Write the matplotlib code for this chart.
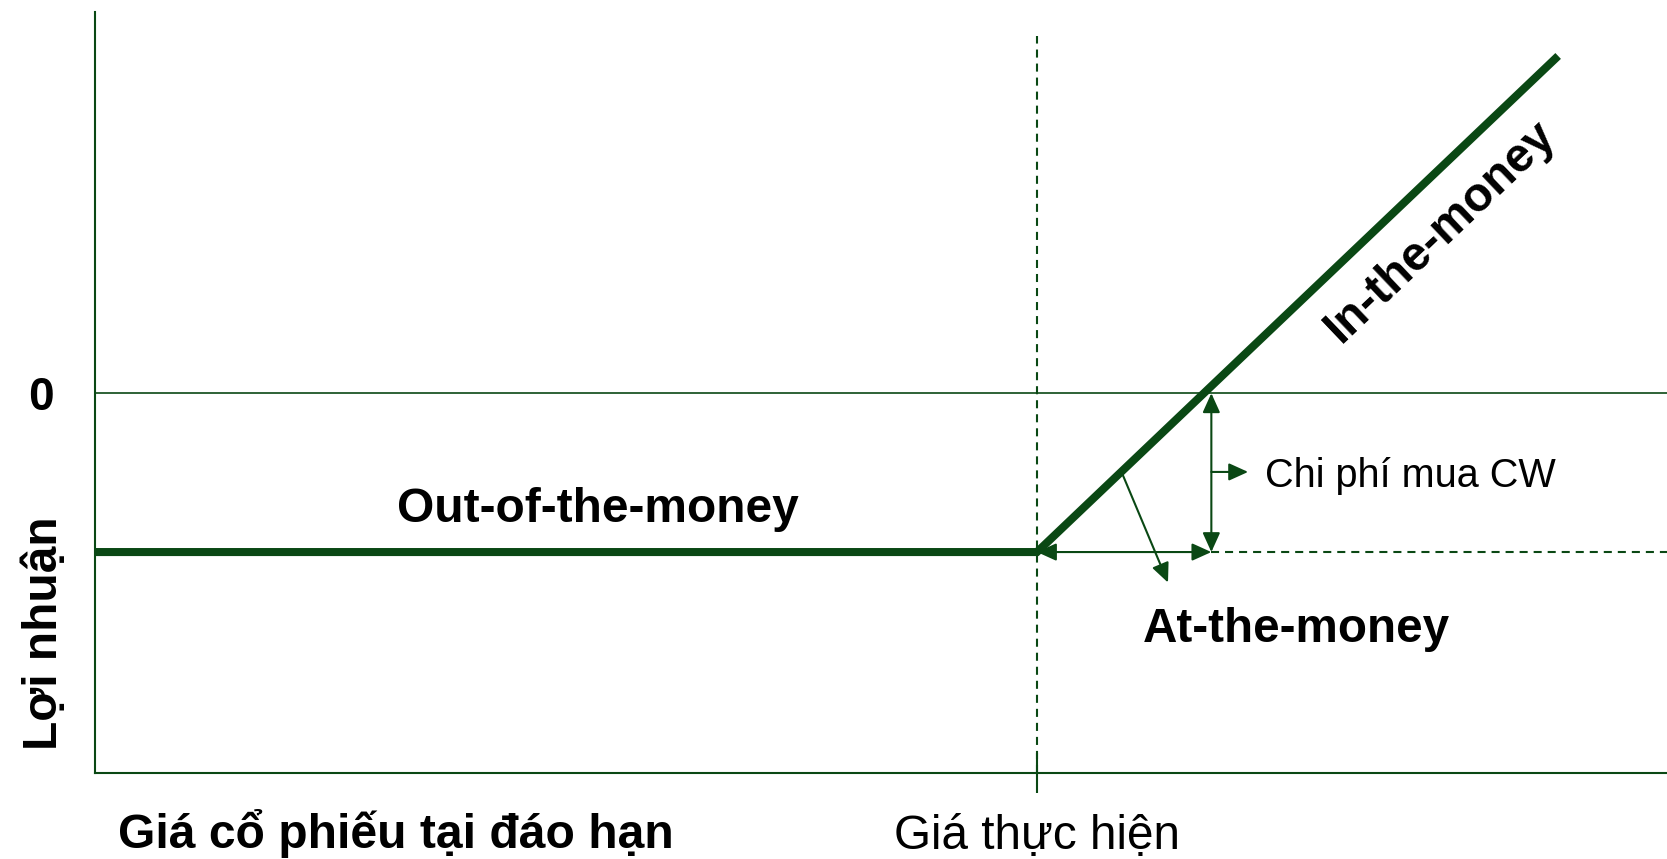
import matplotlib
matplotlib.use("Agg")
import matplotlib.pyplot as plt

plt.rcParams['font.family'] = ['Liberation Sans', 'DejaVu Sans']
plt.rcParams['lines.scale_dashes'] = False

# ---- data ----
strike = 100.0
premium = 17.7
prices = [0.0, 100.0, 155.3]
profits = [-17.7, -17.7, 37.6]
x_max = 166.85
y_min, y_max = -42.33, 42.5
strike_label = "Giá thực hiện"
zero_label = "0"
x_title = "Giá cổ phiếu tại đáo hạn"
y_title = "Lợi nhuận"
txt_otm = "Out-of-the-money"
txt_atm = "At-the-money"
txt_itm = "In-the-money"
txt_cost = "Chi phí mua CW"

GREEN = '#0a4814'
W, H = 1667, 859
fig = plt.figure(figsize=(W / 100, H / 100), dpi=100)
ax = fig.add_axes([94.6 / W, (H - 773) / H, (W - 94.6) / W, (773 - 12) / H])
ax.set_xlim(0, x_max)
ax.set_ylim(y_min, y_max)

for s in ['top', 'right']:
    ax.spines[s].set_visible(False)
for s in ['left', 'bottom']:
    ax.spines[s].set_color(GREEN)
    ax.spines[s].set_linewidth(1.5)

# ticks
ax.set_xticks([strike])
ax.set_xticklabels([strike_label], fontsize=34.3)
ax.tick_params(axis='x', direction='inout', length=29.5, width=1.5, color=GREEN, pad=15)
ax.set_yticks([0])
ax.set_yticklabels([zero_label], fontsize=33, fontweight='bold')
ax.tick_params(axis='y', length=0, pad=29.5)

# axis titles
ax.set_xlabel(x_title, fontsize=34.6, fontweight='bold', ha='left', va='baseline')
ax.xaxis.set_label_coords((118 - 94.6) / (W - 94.6), (773 - 848) / 761)
ax.set_ylabel(y_title, fontsize=34.5, fontweight='bold', ha='center', va='baseline',
              rotation=90, rotation_mode='anchor')
ax.yaxis.set_label_coords((57 - 94.6) / (W - 94.6), (773 - 633) / 761)

# zero line
ax.axhline(0, color=GREEN, lw=1.2)
# strike dashed line
ax.plot([strike, strike], [y_min, 39.8], color=GREEN, lw=1.5, dashes=(5.8, 4.3))
# premium dashed line
be_x = strike + premium + 0.8
ax.plot([be_x, x_max], [-premium, -premium], color=GREEN, lw=1.5, dashes=(5.8, 4.3))

# payoff
ax.plot(prices, profits, color=GREEN, lw=5.8, solid_capstyle='butt', solid_joinstyle='miter')

arrow_kw = dict(color=GREEN, lw=1.5, shrinkA=0, shrinkB=0)
head = '<|-|>,head_length=0.42,head_width=0.19'
head1 = '-|>,head_length=0.42,head_width=0.19'
# vertical cost arrow
ax.annotate('', xy=(be_x, 0), xytext=(be_x, -premium),
            arrowprops=dict(arrowstyle=head, mutation_scale=28, **arrow_kw))
# horizontal arrow at strike
ax.annotate('', xy=(strike, -premium), xytext=(be_x, -premium),
            arrowprops=dict(arrowstyle=head, mutation_scale=28, **arrow_kw))
# small arrow to cost text
ax.annotate('', xy=(122.4, -8.77), xytext=(be_x, -8.77),
            arrowprops=dict(arrowstyle=head1, mutation_scale=28, **arrow_kw))
# diagonal arrow to at-the-money
ax.annotate('', xy=(113.9, -21.1), xytext=(109.1, -9.1),
            arrowprops=dict(arrowstyle=head1, mutation_scale=28, **arrow_kw))

# labels
ax.text(53.4, -14.31, txt_otm, fontsize=34.5, fontweight='bold', ha='center', va='baseline')
ax.text(127.5, -27.69, txt_atm, fontsize=34.3, fontweight='bold', ha='center', va='baseline')
ax.text(124.2, -10.41, txt_cost, fontsize=28.5, ha='left', va='baseline')
ax.text(142.8, 18.0, txt_itm, fontsize=34.3, fontweight='bold', ha='center', va='center',
        rotation=43.6, rotation_mode='anchor')

fig.savefig('out.png', dpi=100)
